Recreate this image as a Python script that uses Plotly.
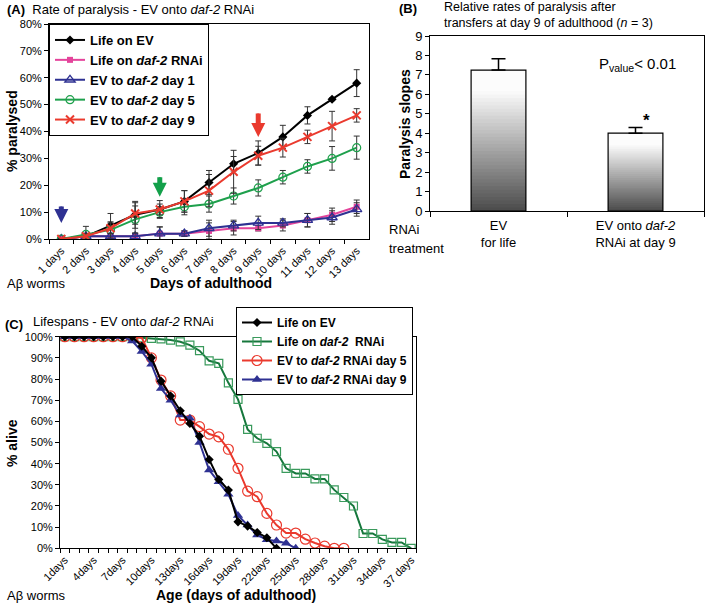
import plotly.graph_objects as go

W, H = 706, 605
FONT = "Arial, Liberation Sans, sans-serif"

# ---------------- Panel A data ----------------
days_a = ["1 days", "2 days", "3 days", "4 days", "5 days", "6 days", "7 days",
          "8 days", "9 days", "10 days", "11 days", "12 days", "13 days"]
life_ev = [0, 1, 5, 9, 11, 14, 21, 28, 32, 38, 46, 52, 58]
life_ev_err = [0, 1, 4.5, 5, 3.3, 4, 4.5, 2.7, 4.5, 4.3, 3.2, 0.5, 5]
life_daf2 = [0, 1, 1, 1, 2, 2, 3, 4, 4, 5, 7, 9, 12]
life_daf2_err = [0, 1, 1, 1, 2.5, 1, 3, 2.5, 1, 2, 2.5, 2.5, 2.5]
ev_day1 = [0, 1, 1, 1, 2, 2, 4, 5, 6, 6, 7, 8, 11]
ev_day1_err = [0, 1, 1, 1, 2.5, 1, 3, 2, 2.5, 1.5, 2.5, 2.5, 2.5]
ev_day5 = [0, 1.7, 3.4, 7.3, 10, 12, 13, 16, 19, 23, 27, 30, 34]
ev_day5_err = [0, 3, 3, 5, 2, 3, 3, 3, 3, 2.5, 2.5, 4.4, 4.3]
ev_day9 = [0, 1, 4, 9.5, 11, 14, 18, 25, 31, 34, 38, 42, 46]
ev_day9_err = [0, 1, 2, 4, 2, 4, 6, 8, 3.5, 3.5, 2.5, 5.5, 2.5]

# ---------------- Panel B data ----------------
b_cats = ["EV<br>for life", "EV onto <i>daf-2</i><br>RNAi at day 9"]
b_vals = [7.25, 4.0]
b_err = [0.58, 0.3]

# ---------------- Panel C data ----------------
days_c = [str(d) for d in range(1, 38)]
days_c_text = ["1days", "", "", "4days", "", "", "7days", "", "", "10days", "", "",
               "13days", "", "", "16days", "", "", "19days", "", "", "22days", "", "",
               "25days", "", "", "28days", "", "", "31days", "", "", "34days", "", "",
               "37 days"]
c_life_ev = [100, 100, 100, 100, 100, 100, 100, 100, 95.5, 90, 79, 72, 65, 59, 53,
             42, 32.5, 27.5, 12.5, 10.5, 7.5, 5, 0]
c_life_daf2 = [100, 100, 100, 100, 100, 100, 100, 100, 99.5, 99.2, 99, 98.4, 97.6,
               96, 93.4, 88.6, 87.4, 78.2, 70.4, 56.2, 52, 49.6, 45.7, 37.8, 35.4,
               35.4, 32.8, 32.8, 27.6, 24, 20, 7, 7, 4.2, 2.8, 2.8, 0]
c_ev_day5 = [100, 100, 100, 100, 100, 100, 100, 100, 99.5, 90, 79.5, 72, 60.6,
             60.6, 57.5, 54, 52.7, 46.8, 37.8, 27, 24.4, 16.5, 11, 7.2, 7.2, 4.3,
             2.5, 1, 0, 0]
c_ev_day9 = [100, 100, 100, 100, 100, 100, 100, 98, 93, 87, 75.5, 70, 63, 61.5, 50,
             37, 31.5, 25.5, 15.5, 11, 6.3, 4, 3.5, 2.4, 0]

BLACK = "#000000"
MAGENTA = "#e4449b"
NAVY = "#2e3192"
GREEN = "#1ea04c"
RED = "#ea3a2e"
DKGREEN = "#16773c"


def px(x):
    return x / W


def py(y):
    return 1 - y / H


fig = go.Figure()

# ---------------- Panel A traces ----------------
def err(arr):
    return dict(type="data", array=arr, color="#333333", thickness=1, width=3)

fig.add_trace(go.Scatter(x=days_a, y=life_ev, name="Life on EV", mode="lines+markers",
                         line=dict(color=BLACK, width=2),
                         marker=dict(symbol="diamond", size=7, color=BLACK),
                         error_y=err(life_ev_err), xaxis="x", yaxis="y", legend="legend"))
fig.add_trace(go.Scatter(x=days_a, y=life_daf2, name="Life on <i>daf-2</i> RNAi",
                         mode="lines+markers", line=dict(color=MAGENTA, width=2),
                         marker=dict(symbol="square", size=6, color=MAGENTA),
                         error_y=err(life_daf2_err), xaxis="x", yaxis="y", legend="legend"))
fig.add_trace(go.Scatter(x=days_a, y=ev_day1, name="EV to <i>daf-2</i> day 1",
                         mode="lines+markers", line=dict(color=NAVY, width=2),
                         marker=dict(symbol="triangle-up-open", size=9, color=NAVY,
                                     line=dict(width=1.3)),
                         error_y=err(ev_day1_err), xaxis="x", yaxis="y", legend="legend"))
fig.add_trace(go.Scatter(x=days_a, y=ev_day5, name="EV to <i>daf-2</i> day 5",
                         mode="lines+markers", line=dict(color=GREEN, width=2),
                         marker=dict(symbol="circle-open", size=8, color=GREEN,
                                     line=dict(width=1.2)),
                         error_y=err(ev_day5_err), xaxis="x", yaxis="y", legend="legend"))
fig.add_trace(go.Scatter(x=days_a, y=ev_day9, name="EV to <i>daf-2</i> day 9",
                         mode="lines+markers", line=dict(color=RED, width=2),
                         marker=dict(symbol="x-thin-open", size=8, color=RED,
                                     line=dict(width=2, color=RED)),
                         error_y=err(ev_day9_err), xaxis="x", yaxis="y", legend="legend"))

# ---------------- Panel B traces (gradient bars) ----------------
N = 40
for i in range(N):
    f = (i + 0.5) / N
    g = int(75 + (252 - 75) * min(1.0, f / 0.85))
    col = f"rgb({g},{g},{g})"
    bases = [v * i / N for v in b_vals]
    heights = [min(2.0 * v / N, v - b0) for v, b0 in zip(b_vals, bases)]
    fig.add_trace(go.Bar(x=b_cats, y=heights, base=bases, width=0.4,
                         marker=dict(color=col, line=dict(width=0)),
                         showlegend=False, hoverinfo="skip",
                         xaxis="x2", yaxis="y2"))
fig.add_trace(go.Bar(x=b_cats, y=b_vals, base=[0, 0], width=0.4,
                     marker=dict(color="rgba(0,0,0,0)", line=dict(color=BLACK, width=1.2)),
                     error_y=dict(type="data", symmetric=False, array=b_err,
                                  arrayminus=[0, 0], color=BLACK, thickness=1.5, width=7),
                     showlegend=False, xaxis="x2", yaxis="y2"))

# ---------------- Panel C traces ----------------
fig.add_trace(go.Scatter(x=days_c[:len(c_life_daf2)], y=c_life_daf2,
                         name="Life on <i>daf-2</i>  RNAi", mode="lines+markers",
                         line=dict(color=DKGREEN, width=2),
                         marker=dict(symbol="square-open", size=8, color="#3a9a5c",
                                     line=dict(width=1.2)),
                         xaxis="x3", yaxis="y3", legend="legend2", legendrank=2))
fig.add_trace(go.Scatter(x=days_c[:len(c_ev_day5)], y=c_ev_day5,
                         name="EV to <i>daf-2</i> RNAi day 5", mode="lines+markers",
                         line=dict(color=RED, width=2),
                         marker=dict(symbol="circle-open", size=10, color=RED,
                                     line=dict(width=1.2)),
                         xaxis="x3", yaxis="y3", legend="legend2", legendrank=3))
fig.add_trace(go.Scatter(x=days_c[:len(c_ev_day9)], y=c_ev_day9,
                         name="EV to <i>daf-2</i> RNAi day 9", mode="lines+markers",
                         line=dict(color=NAVY, width=2),
                         marker=dict(symbol="triangle-up", size=9, color=NAVY),
                         xaxis="x3", yaxis="y3", legend="legend2", legendrank=4))
fig.add_trace(go.Scatter(x=days_c[:len(c_life_ev)], y=c_life_ev,
                         name="Life on EV", mode="lines+markers",
                         line=dict(color=BLACK, width=2),
                         marker=dict(symbol="diamond", size=7, color=BLACK),
                         xaxis="x3", yaxis="y3", legend="legend2", legendrank=1))


def axis(size=11, **kw):
    d = dict(showline=True, linecolor=BLACK, linewidth=1, mirror=True,
             showgrid=False, zeroline=False, ticks="outside", ticklen=4,
             tickcolor=BLACK, automargin=False,
             tickfont=dict(family=FONT, size=size, color=BLACK))
    d.update(kw)
    return d


fig.update_layout(
    width=W, height=H, margin=dict(l=0, r=0, t=0, b=0, autoexpand=False),
    paper_bgcolor="white", plot_bgcolor="white",
    font=dict(family=FONT, color=BLACK),
    barmode="overlay",
    xaxis=axis(11, domain=[px(49), px(369)], anchor="y", type="category",
               range=[-0.5, 12.5], tickson="boundaries", tickangle=-45),
    yaxis=axis(11, domain=[py(239), py(24)], anchor="x", range=[0, 80], dtick=10,
               ticksuffix="%"),
    xaxis2=axis(13, domain=[px(430), px(704)], anchor="y2", type="category",
                range=[-0.5, 1.5], tickson="boundaries", ticklen=5,
                ticklabelstandoff=2),
    yaxis2=axis(13, domain=[py(211), py(36)], anchor="x2", range=[0, 9], dtick=1),
    xaxis3=axis(11, domain=[px(60), px(416)], anchor="y3", type="category",
                categoryorder="array", categoryarray=days_c,
                range=[-0.5, 36.5], tickson="boundaries", tickangle=-45,
                tickmode="array", tickvals=days_c, ticktext=days_c_text),
    yaxis3=axis(11, domain=[py(548.3), py(336.7)], anchor="x3", range=[0, 100],
                dtick=10, ticksuffix="%"),
    legend=dict(x=px(49), y=py(24), xanchor="left", yanchor="top",
                bgcolor="white", bordercolor=BLACK, borderwidth=1,
                font=dict(family=FONT, size=13, color=BLACK, weight="bold"),
                tracegroupgap=0, itemwidth=30, traceorder="normal"),
    legend2=dict(x=px(236), y=py(307), xanchor="left", yanchor="top",
                 bgcolor="white", bordercolor=BLACK, borderwidth=1,
                 font=dict(family=FONT, size=12, color=BLACK, weight="bold"),
                 tracegroupgap=0, itemwidth=30, traceorder="normal"),
)

ann = []


def text(x, y, s, size=13, bold=False, xanchor="left", yanchor="middle", angle=0):
    ann.append(dict(x=px(x), y=py(y), xref="paper", yref="paper", text=s,
                    showarrow=False, xanchor=xanchor, yanchor=yanchor, textangle=angle,
                    font=dict(family=FONT, size=size, color=BLACK,
                              weight="bold" if bold else "normal")))

# Panel A texts
text(5, 10, "<b>(A)</b>  Rate of paralysis - EV onto <i>daf-2</i> RNAi", 13)
text(12, 131, "% paralysed", 14, bold=True, xanchor="center", angle=-90)
text(211, 283, "Days of adulthood", 14, bold=True, xanchor="center")
text(5, 283, "Aβ worms", 13)

# Panel B texts
text(397, 9, "<b>(B)</b>", 13)
text(442, 7, "Relative rates of paralysis after", 12.5)
text(442, 23, "transfers at day 9 of adulthood (<i>n</i> = 3)", 12.5)
text(405, 124, "Paralysis slopes", 14, bold=True, xanchor="center", angle=-90)
text(637, 64, "P<sub>value</sub>< 0.01", 15, xanchor="center")
text(646, 120, "*", 17, bold=True, xanchor="center")
text(387, 229, "RNAi", 13)
text(387, 248, "treatment", 13)

# Panel C texts
text(3, 324, "<b>(C)</b>", 13)
text(31, 321, "Lifespans - EV onto <i>daf-2</i> RNAi", 13)
text(12, 443, "% alive", 14, bold=True, xanchor="center", angle=-90)
text(236, 595, "Age (days of adulthood)", 14, bold=True, xanchor="center")
text(5, 595, "Aβ worms", 13)

# Arrows in panel A: thick shaft + head
for day, yv, length, col in [("1 days", 6, 18, NAVY), ("5 days", 15.7, 21, "#13a04a"),
                             ("9 days", 38, 25, RED)]:
    ann.append(dict(x=day, y=yv, xref="x", yref="y", ax=0, ay=-length, text="",
                    showarrow=True, arrowhead=0, arrowwidth=5,
                    arrowcolor=col, standoff=7))
    ann.append(dict(x=day, y=yv, xref="x", yref="y", ax=0, ay=-length, text="",
                    showarrow=True, arrowhead=2, arrowsize=1.4, arrowwidth=2,
                    arrowcolor=col, standoff=0))

fig.update_layout(annotations=ann)

fig.write_html("out.html",
               config={"displayModeBar": False, "staticPlot": True},
               post_script="document.body.style.margin='0px';"
                           "document.body.style.overflow='hidden';")
